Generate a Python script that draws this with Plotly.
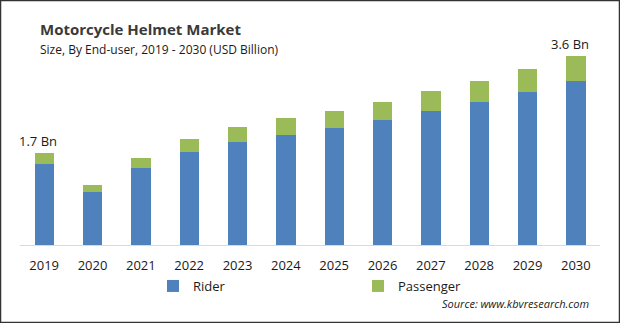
import plotly.graph_objects as go

years = ["2019", "2020", "2021", "2022", "2023", "2024", "2025", "2026", "2027", "2028", "2029", "2030"]
rider = [1.53, 1.00, 1.45, 1.75, 1.94, 2.08, 2.21, 2.36, 2.53, 2.70, 2.89, 3.09]
passenger = [0.20, 0.13, 0.19, 0.25, 0.29, 0.32, 0.32, 0.34, 0.38, 0.39, 0.43, 0.48]
label_years = ["2019", "2030"]

BLUE = "#4F81BD"
GREEN = "#9BBB59"
FONT = "Open Sans"

W, H = 620, 323
ML, MR, MT, MB = 20, 20, 33, 78
PW, PH = W - ML - MR, H - MT - MB

def px_x(p):
    return (p - ML) / PW

def px_y(p):
    return (H - MB - p) / PH

fig = go.Figure()
fig.add_trace(go.Bar(name="Rider", x=years, y=rider, marker=dict(color=BLUE, line=dict(width=0))))
fig.add_trace(go.Bar(name="Passenger", x=years, y=passenger, marker=dict(color=GREEN, line=dict(width=0))))

annotations = []
for yr in label_years:
    i = years.index(yr)
    tot = rider[i] + passenger[i]
    annotations.append(dict(x=i, y=tot, xref="x", yref="y", text=f"{tot:.1f} Bn",
                            showarrow=False, yanchor="bottom", xshift=-6, yshift=1,
                            font=dict(family=FONT, size=13, color="#1a1a1a")))

annotations += [
    dict(x=px_x(38), y=px_y(29), xref="paper", yref="paper", xanchor="left", yanchor="middle",
         text="<b>Motorcycle Helmet Market</b>", showarrow=False,
         font=dict(family=FONT, size=15, color="#3a3a3a")),
    dict(x=px_x(38), y=px_y(49), xref="paper", yref="paper", xanchor="left", yanchor="middle",
         text="Size, By End-user, 2019 - 2030 (USD Billion)", showarrow=False,
         font=dict(family=FONT, size=12, color="#1a1a1a")),
    dict(x=px_x(591), y=px_y(303), xref="paper", yref="paper", xanchor="right", yanchor="middle",
         text="<i>Source: www.kbvresearch.com</i>", showarrow=False,
         font=dict(family=FONT, size=11, color="#1a1a1a")),
]

fig.update_layout(
    width=W, height=H,
    margin=dict(l=ML, r=MR, t=MT, b=MB),
    barmode="stack", bargap=0.6,
    plot_bgcolor="white", paper_bgcolor="white",
    showlegend=True,
    legend=dict(orientation="h", x=px_x(153), y=px_y(286), xanchor="left", yanchor="middle",
                traceorder="normal",
                entrywidth=160, entrywidthmode="pixels", itemwidth=30,
                font=dict(family=FONT, size=13, color="#1a1a1a"), bgcolor="rgba(0,0,0,0)"),
    xaxis=dict(type="category", categoryorder="array", categoryarray=years,
               range=[-0.5, len(years) - 0.5], autorange=False,
               showline=True, linecolor="#d9d9d9", linewidth=1, ticks="", showgrid=False,
               ticklabelstandoff=8,
               tickfont=dict(family=FONT, size=13, color="#1a1a1a"), fixedrange=True),
    yaxis=dict(range=[0, PH / 53.0], visible=False, showgrid=False, fixedrange=True),
    annotations=annotations,
    shapes=[dict(type="rect", xref="paper", yref="paper",
                 x0=px_x(0.5), x1=px_x(619.5), y0=px_y(0.5), y1=px_y(322.5),
                 line=dict(color="#333333", width=1.5), layer="above")],
    font=dict(family=FONT),
)

fig.write_html("out.html", config={"displayModeBar": False})
